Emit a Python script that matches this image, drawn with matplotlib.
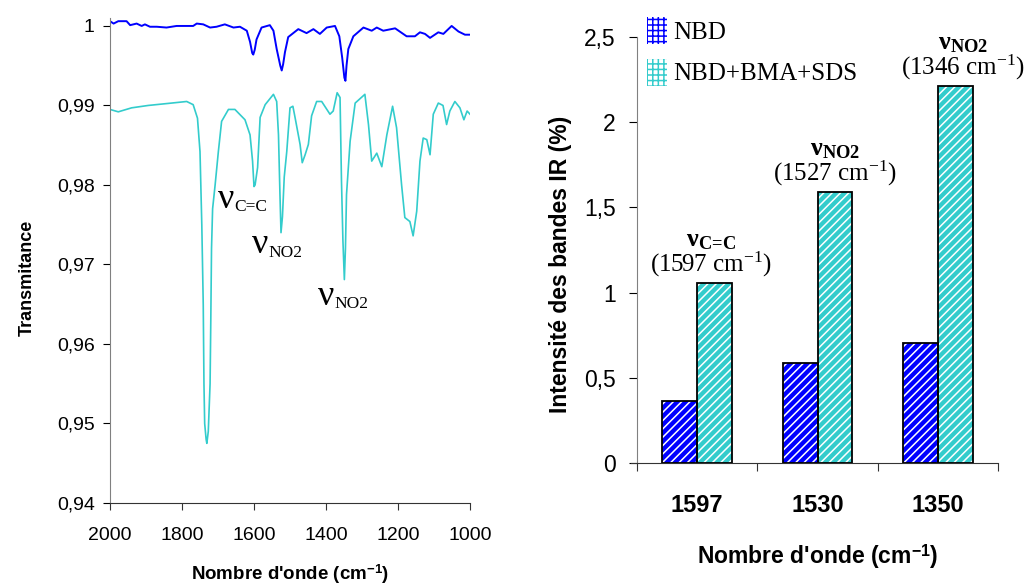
import matplotlib
matplotlib.use("Agg")
import matplotlib.pyplot as plt
from matplotlib.patches import Patch
from matplotlib.ticker import FuncFormatter, FixedLocator
import numpy as np

plt.rcParams['font.family'] = ['Liberation Sans', 'DejaVu Sans']
plt.rcParams['mathtext.fontset'] = 'custom'
plt.rcParams['mathtext.rm'] = 'Liberation Serif'
plt.rcParams['mathtext.bf'] = 'Liberation Serif:bold'
plt.rcParams['mathtext.it'] = 'Liberation Serif:italic'
plt.rcParams['hatch.linewidth'] = 1.1

# --- spectre IR (gauche) ---
wn_nbd = [2000, 1990, 1977, 1954, 1944, 1926, 1912, 1903, 1889, 1870, 1843, 1815,
          1769, 1759, 1741, 1722, 1704, 1681, 1657, 1639, 1620, 1611, 1605, 1602,
          1598, 1593, 1579, 1556, 1546, 1537, 1527, 1523, 1519, 1514, 1505, 1477,
          1454, 1435, 1417, 1398, 1375, 1363, 1355, 1349, 1346, 1343, 1338, 1324,
          1296, 1273, 1259, 1241, 1208, 1176, 1153, 1139, 1125, 1111, 1088, 1074,
          1051, 1032, 1014, 1000]
t_nbd = [1.0006, 1.0003, 1.0006, 1.0006, 1.0001, 1.0003, 1.0000, 1.0002, 0.9999,
         0.9999, 0.9998, 1.0000, 1.0000, 1.0003, 1.0002, 0.9998, 0.9999, 1.0002,
         0.9998, 0.9999, 0.9994, 0.9980, 0.9966, 0.9964, 0.9970, 0.9983, 0.9998,
         1.0001, 0.9994, 0.9971, 0.9950, 0.9944, 0.9952, 0.9967, 0.9986, 0.9996,
         0.9991, 0.9996, 0.9990, 0.9998, 1.0000, 0.9987, 0.9960, 0.9935, 0.9931,
         0.9950, 0.9971, 0.9987, 0.9998, 0.9994, 0.9998, 0.9994, 0.9997, 0.9987,
         0.9987, 0.9992, 0.9990, 0.9985, 0.9992, 0.9990, 1.0000, 0.9993, 0.9989,
         0.9989]

wn_mix = [2000, 1977, 1940, 1894, 1829, 1787, 1769, 1757, 1750, 1745, 1741, 1739,
          1737, 1733, 1731, 1727, 1722, 1720, 1718, 1715, 1708, 1699, 1690, 1671,
          1653, 1625, 1611, 1604, 1600, 1597, 1590, 1583, 1569, 1546, 1537, 1532,
          1528, 1525, 1521, 1516, 1509, 1500, 1492, 1486, 1472, 1466, 1458, 1449,
          1440, 1426, 1412, 1389, 1380, 1369, 1361, 1357, 1353, 1349, 1346, 1343,
          1333, 1319, 1292, 1282, 1273, 1259, 1245, 1231, 1215, 1204, 1190, 1181,
          1167, 1158, 1148, 1139, 1130, 1120, 1111, 1102, 1088, 1075, 1065, 1056,
          1042, 1028, 1017, 1008, 1000]
t_mix = [0.9895, 0.9892, 0.9897, 0.9900, 0.9903, 0.9905, 0.9901, 0.9884, 0.9842,
         0.9750, 0.9650, 0.9550, 0.9500, 0.9480, 0.9475, 0.9490, 0.9550, 0.9630,
         0.9720, 0.9770, 0.9800, 0.9842, 0.9880, 0.9895, 0.9895, 0.9882, 0.9863,
         0.9830, 0.9798, 0.9800, 0.9822, 0.9885, 0.9901, 0.9914, 0.9905, 0.9863,
         0.9790, 0.9740, 0.9760, 0.9810, 0.9842, 0.9897, 0.9899, 0.9885, 0.9851,
         0.9828, 0.9838, 0.9851, 0.9887, 0.9905, 0.9905, 0.9889, 0.9893, 0.9916,
         0.9910, 0.9805, 0.9730, 0.9681, 0.9720, 0.9788, 0.9855, 0.9903, 0.9914,
         0.9876, 0.9830, 0.9840, 0.9823, 0.9863, 0.9899, 0.9872, 0.9800, 0.9759,
         0.9754, 0.9736, 0.9767, 0.9830, 0.9859, 0.9857, 0.9838, 0.9889, 0.9903,
         0.9900, 0.9876, 0.9893, 0.9905, 0.9897, 0.9882, 0.9893, 0.9889]

# annotations du spectre
nu_sub = ['C=C', 'NO2', 'NO2']
nu_wn = [1700, 1606, 1422]
nu_t = [0.9771, 0.97143, 0.96491]

# --- intensites des bandes (droite) ---
bandes = ['1597', '1530', '1350']
nbd = [0.366, 0.589, 0.702]
nbd_bma_sds = [1.055, 1.589, 2.212]
bande_nom = [r'$\mathbf{\nu}_{\mathbf{C\!=\!C}}$', r'$\mathbf{\nu}_{\mathbf{NO2}}$',
             r'$\mathbf{\nu}_{\mathbf{NO2}}$']
bande_pos = ['(1597 cm$^{\\mathregular{-1}}$)', '(1527 cm$^{\\mathregular{-1}}$)',
             '(1346 cm$^{\\mathregular{-1}}$)']
ann_dx = [0.116, 0.145, 0.209]

bleu = '#0000FF'
cyan = '#33CCCC'
gris = '#808080'

virg = FuncFormatter(lambda v, p: ('%g' % round(v, 4)).replace('.', ','))

fig = plt.figure(figsize=(10.26, 5.85), dpi=100)

# ---------- gauche ----------
ax1 = fig.add_axes([110 / 1026, 1 - 503 / 585, 360 / 1026, 485 / 585])
ax1.plot(wn_nbd, t_nbd, color=bleu, lw=1.4)
ax1.plot(wn_mix, t_mix, color=cyan, lw=1.2)
ax1.set_xlim(2000, 1000)
ax1.set_ylim(0.94, 1.001)
ax1.set_xticks([2000, 1800, 1600, 1400, 1200, 1000])
ax1.set_yticks([0.94, 0.95, 0.96, 0.97, 0.98, 0.99, 1.0])
ax1.yaxis.set_major_formatter(virg)
for s in ['top', 'right']:
    ax1.spines[s].set_visible(False)
ax1.spines['left'].set_color(gris)
ax1.spines['bottom'].set_color('#333333')
ax1.tick_params(axis='y', direction='out', length=5, pad=6, labelsize=14)
ax1.tick_params(axis='x', direction='out', length=5, pad=12, labelsize=14, color='#333333')
ax1.set_xlabel("Nombre d'onde (cm$^{\\mathregular{-1}}$)", fontsize=13.5, fontweight='bold')
ax1.xaxis.set_label_coords(290 / 1026, 1 - 563 / 585, transform=fig.transFigure)
ax1.set_ylabel('Transmitance', fontsize=13, fontweight='bold')
ax1.yaxis.set_label_coords(36 / 1026, 1 - 278 / 585, transform=fig.transFigure)

for sub, x, y in zip(nu_sub, nu_wn, nu_t):
    ax1.text(x, y, 'ν', family='Liberation Serif', fontsize=26, ha='left', va='baseline')
    ax1.annotate(sub, (x, y), xytext=(12, -2.5), textcoords='offset points',
                 family='Liberation Serif', fontsize=12.5, ha='left', va='baseline')

# ---------- droite ----------
ax2 = fig.add_axes([636.7 / 1026, 1 - 463 / 585, 361.6 / 1026, 426 / 585])
x = np.arange(len(bandes))
w = 0.29
ax2.bar(x - w / 2, nbd, w, color=bleu, edgecolor='white', hatch='////', linewidth=0)
ax2.bar(x + w / 2, nbd_bma_sds, w, color=cyan, edgecolor='white', hatch='////', linewidth=0)
ax2.bar(x - w / 2, nbd, w, fill=False, edgecolor='black', linewidth=1.3)
ax2.bar(x + w / 2, nbd_bma_sds, w, fill=False, edgecolor='black', linewidth=1.3)
ax2.set_xlim(-0.5, 2.5)
ax2.set_ylim(0, 2.5)
ax2.set_yticks([0, 0.5, 1, 1.5, 2, 2.5])
ax2.yaxis.set_major_formatter(virg)
ax2.xaxis.set_major_locator(FixedLocator([-0.5, 0.5, 1.5, 2.5]))
ax2.xaxis.set_major_formatter(FuncFormatter(lambda v, p: ''))
ax2.xaxis.set_minor_locator(FixedLocator(x))
ax2.set_xticklabels(bandes, minor=True, fontsize=17, fontweight='bold')
ax2.tick_params(axis='x', which='minor', length=0, pad=22)
ax2.tick_params(axis='x', which='major', direction='out', length=6, color='#333333')
ax2.tick_params(axis='y', direction='out', length=6, pad=9, labelsize=16.5)
for s in ['top', 'right']:
    ax2.spines[s].set_visible(False)
ax2.spines['left'].set_color(gris)
ax2.spines['bottom'].set_color('#333333')
ax2.spines['bottom'].set_bounds(-0.55, 2.5)
ax2.set_xlabel("Nombre d'onde (cm$^{\\mathregular{-1}}$)", fontsize=16.5, fontweight='bold')
ax2.xaxis.set_label_coords(818 / 1026, 1 - 542 / 585, transform=fig.transFigure)
ax2.set_ylabel('Intensité des bandes IR (%)', fontsize=16.5, fontweight='bold')
ax2.yaxis.set_label_coords(572 / 1026, 1 - 264 / 585, transform=fig.transFigure)

for i, v in enumerate(nbd_bma_sds):
    ax2.annotate(bande_nom[i], (i + ann_dx[i], v), xytext=(0, 31), textcoords='offset points',
                 fontsize=19, ha='center', va='center')
    ax2.annotate(bande_pos[i], (i + ann_dx[i], v), xytext=(0, 13.5), textcoords='offset points',
                 family='Liberation Serif', fontsize=18, ha='center', va='center')

poignees = [Patch(facecolor='white', edgecolor=bleu, hatch='+++', linewidth=0),
            Patch(facecolor='white', edgecolor=cyan, hatch='+++', linewidth=0)]
fig.legend(poignees, ['NBD', 'NBD+BMA+SDS'], loc='upper left',
           bbox_to_anchor=(646.7 / 1026, 1 - 16.7 / 585), frameon=False,
           prop={'family': 'Liberation Serif', 'size': 18}, handlelength=0.8,
           handleheight=1.28, labelspacing=0.6, handletextpad=0.25, borderpad=0,
           borderaxespad=0)

fig.savefig('out.png', dpi=100)
